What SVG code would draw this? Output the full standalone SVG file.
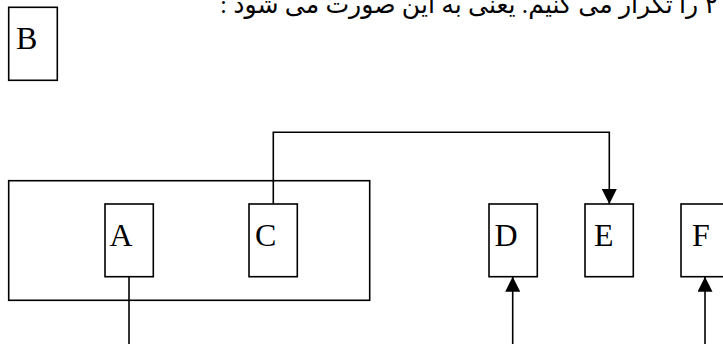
<svg xmlns="http://www.w3.org/2000/svg" width="723" height="344" viewBox="0 0 723 344">
<defs>
<style>
.box{fill:none;stroke:#000;stroke-width:1.6}
.lbl{font-family:"Liberation Serif","Times New Roman",serif;font-size:32px;fill:#000}
.fa{font-family:"Liberation Serif","DejaVu Sans","Noto Sans",serif;font-size:25px;fill:#000}
.wire{fill:none;stroke:#000;stroke-width:1.6}
</style>
<marker id="arr" viewBox="0 0 15 15" markerWidth="15" markerHeight="15" markerUnits="userSpaceOnUse" refX="15" refY="7.5" orient="auto">
<path d="M0,0 L15,7.5 L0,15 z" fill="#000"/>
</marker>
</defs>
<rect width="723" height="344" fill="#fff"/>
<text class="fa" x="718" y="13" text-anchor="start" direction="rtl" xml:lang="fa" textLength="498" lengthAdjust="spacingAndGlyphs">۲ را تکرار می کنیم. یعنی به این صورت می شود :</text>
<g id="group">
<rect class="box" x="8.7" y="180.7" width="361" height="119.6"/>
</g>
<g id="B">
<rect class="box" x="8.7" y="7.3" width="48.6" height="73"/>
<text class="lbl" x="16" y="49">B</text>
</g>
<g id="A">
<rect class="box" x="105" y="204" width="48.3" height="72.7"/>
<text class="lbl" x="109.5" y="245.7">A</text>
</g>
<g id="C">
<rect class="box" x="249" y="204" width="48.3" height="72.7"/>
<text class="lbl" x="255" y="245.7">C</text>
</g>
<g id="D">
<rect class="box" x="489" y="204" width="48.3" height="72.7"/>
<text class="lbl" x="494.5" y="245.7">D</text>
</g>
<g id="E">
<rect class="box" x="585" y="204" width="48.3" height="72.7"/>
<text class="lbl" x="594" y="245.7">E</text>
</g>
<g id="F">
<rect class="box" x="681" y="204" width="48.3" height="72.7"/>
<text class="lbl" x="692" y="245.7">F</text>
</g>
<g id="connectors">
<path class="wire" d="M273.3,204 V132.3 H609.3 V204" marker-end="url(#arr)"/>
<path class="wire" d="M129,276.7 V344"/>
<path class="wire" d="M512.7,344 V276.7" marker-end="url(#arr)"/>
<path class="wire" d="M705,344 V276.7" marker-end="url(#arr)"/>
</g>
</svg>
